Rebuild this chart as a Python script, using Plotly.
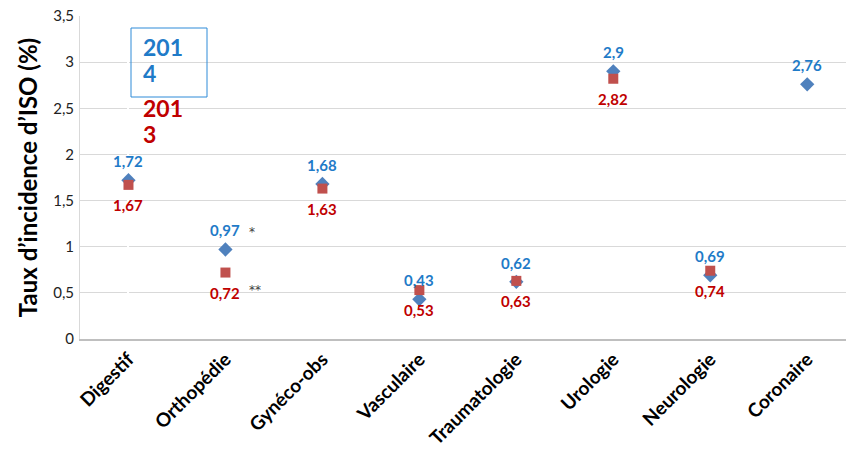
import plotly.graph_objects as go

categories = ["Digestif", "Orthopédie", "Gynéco-obs", "Vasculaire", "Traumatologie", "Urologie", "Neurologie", "Coronaire"]
values_2014 = [1.72, 0.97, 1.68, 0.43, 0.62, 2.9, 0.69, 2.76]
values_2013 = [1.67, 0.72, 1.63, 0.53, 0.63, 2.82, 0.74, None]
notes_2014 = ["", "*", "", "", "", "", "", ""]
notes_2013 = ["", "**", "", "", "", "", "", ""]
y_ticks = [0, 0.5, 1, 1.5, 2, 2.5, 3, 3.5]
y_tick_labels = ["0", "0,5", "1", "1,5", "2", "2,5", "3", "3,5"]

BLUE_M = "#4F81BD"
RED_M = "#C0504D"
BLUE_T = "#1F7BC8"
RED_T = "#C00000"
FONT = "Lato"

fig = go.Figure()
fig.add_trace(go.Scatter(x=list(range(len(categories))), y=values_2014, mode="markers",
                         marker=dict(symbol="diamond", size=11, color=BLUE_M), name="2014"))
fig.add_trace(go.Scatter(x=list(range(len(categories))), y=values_2013, mode="markers",
                         marker=dict(symbol="square", size=10, color=RED_M), name="2013"))

def fmt(v):
    return ("%g" % v).replace(".", ",")

ann = []
for i, v in enumerate(values_2014):
    if v is None:
        continue
    ann.append(dict(x=i, y=v, text=fmt(v), showarrow=False, yshift=19,
                    font=dict(family=FONT, size=15, color=BLUE_T, weight="bold")))
    if notes_2014[i]:
        ann.append(dict(x=i, y=v, text=notes_2014[i], showarrow=False, yshift=17, xshift=22,
                        xanchor="left", font=dict(family="DejaVu Sans", size=12, color="#404040")))
for i, v in enumerate(values_2013):
    if v is None:
        continue
    ann.append(dict(x=i, y=v, text=fmt(v), showarrow=False, yshift=-20,
                    font=dict(family=FONT, size=15, color=RED_T, weight="bold")))
    if notes_2013[i]:
        ann.append(dict(x=i, y=v, text=notes_2013[i], showarrow=False, yshift=-17, xshift=22,
                        xanchor="left", font=dict(family="DejaVu Sans", size=12, color="#404040")))

# legend-like text box
legend_lines = [("201", BLUE_T, 47), ("4", BLUE_T, 73), ("201", RED_T, 108), ("3", RED_T, 134)]
for txt, col, yp in legend_lines:
    ann.append(dict(xref="paper", yref="paper", x=(141 - 80) / 766, y=1 - (yp - 16) / 323,
                    text=txt, showarrow=False, xanchor="left", yanchor="middle",
                    font=dict(family=FONT, size=23, color=col, weight="bold")))

fig.update_layout(
    width=846, height=457,
    margin=dict(l=80, r=0, t=16, b=118),
    paper_bgcolor="white", plot_bgcolor="white",
    showlegend=False,
    annotations=ann,
    shapes=[dict(type="rect", xref="paper", yref="paper",
                 x0=(131 - 80) / 766, x1=(207 - 80) / 766,
                 y0=1 - (97 - 16) / 323, y1=1 - (28 - 16) / 323,
                 line=dict(color="#2E8BD8", width=1))],
    font=dict(family=FONT, color="black"),
)
fig.update_xaxes(range=[-0.5, 7.4], tickmode="array", tickvals=list(range(len(categories))),
                 ticktext=categories, tickangle=-45, showgrid=False, showline=True,
                 linecolor="#BFBFBF", linewidth=1.5, ticks="",
                 tickfont=dict(family=FONT, size=19, color="black", weight="bold"))
fig.update_yaxes(range=[0, 3.5], tickmode="array", tickvals=y_ticks, ticktext=y_tick_labels,
                 showgrid=True, gridcolor="#D9D9D9", gridwidth=1, showline=True,
                 linecolor="#D9D9D9", zeroline=False, ticks="outside", ticklen=2,
                 tickcolor="rgba(0,0,0,0)",
                 tickfont=dict(family=FONT, size=15, color="#222222"),
                 title=dict(text="Taux d’incidence d’ISO (%)", standoff=8,
                            font=dict(family=FONT, size=24, color="black", weight="bold")))

fig.write_html("out.html")
